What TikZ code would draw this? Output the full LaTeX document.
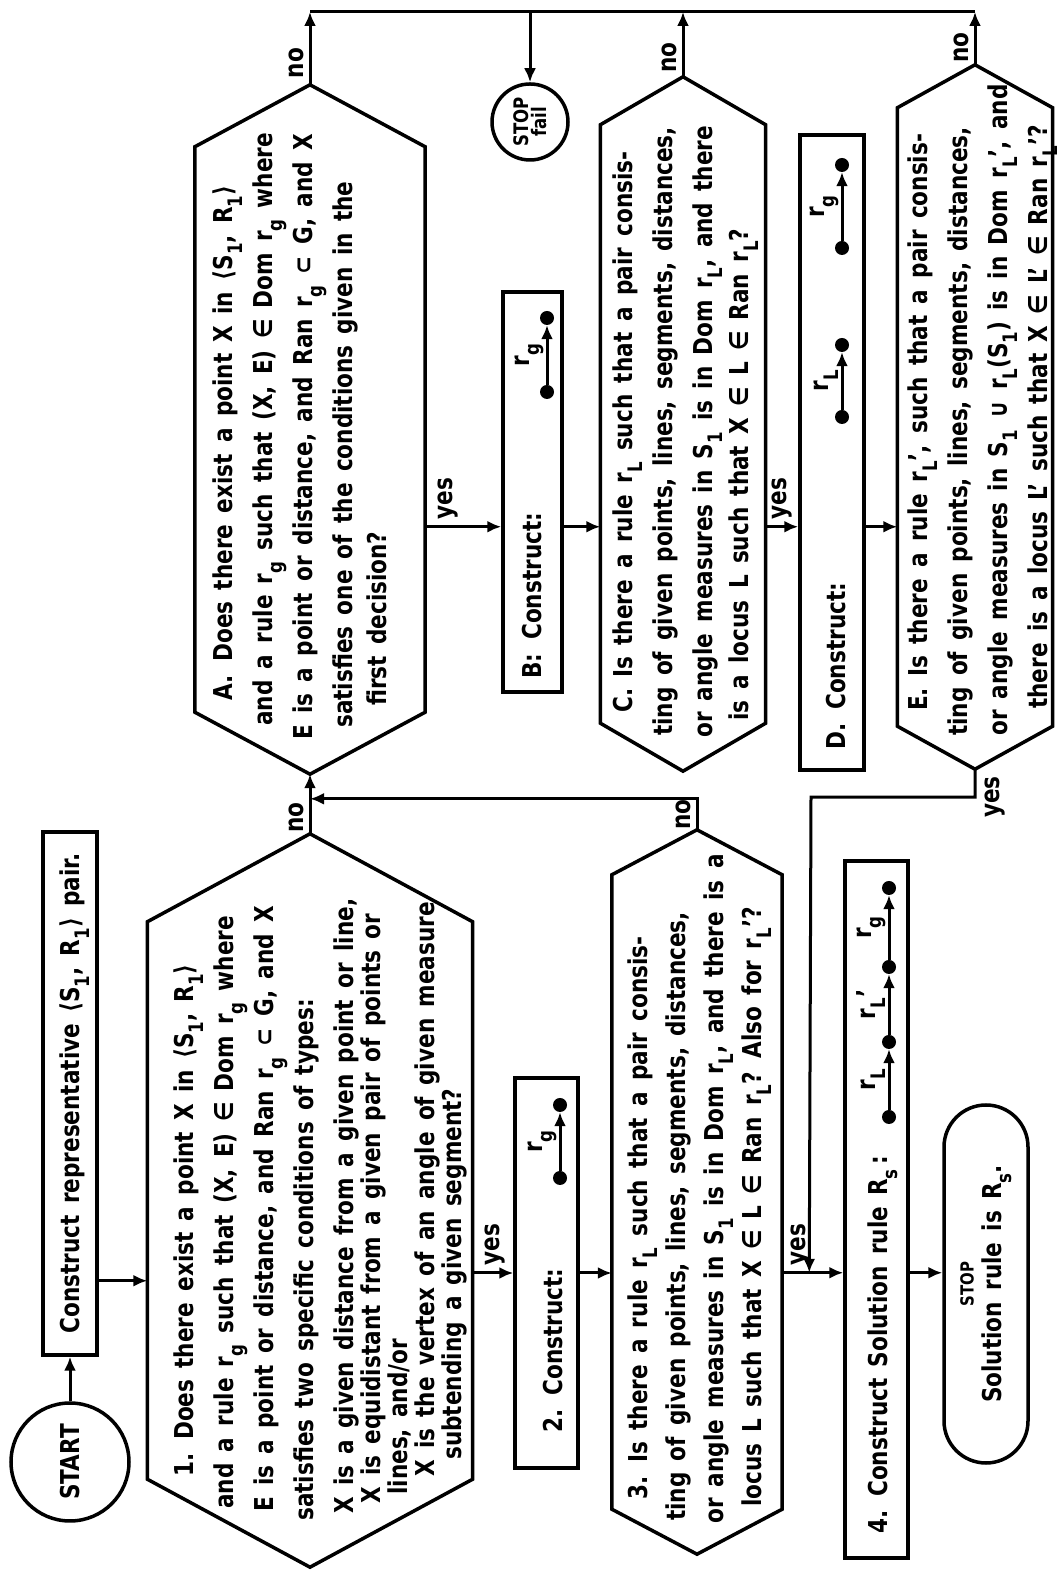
\documentclass[tikz,border=0pt]{standalone}
\usepackage{fontspec}
\setmainfont{DejaVu Sans}[FakeStretch=0.83, WordSpace=1.5]
\usetikzlibrary{
  arrows.meta,
  calc,
  positioning,
}
\newcommand{\lowix}[1]{\raisebox{-10pt}{\fontsize{20}{20}\selectfont #1}}
\newcommand{\hexframe}[2]{
  \draw[frame] (#1.north west) -- (#1.north east)
    -- ($(#1.east)+(#2,0)$) coordinate (#1-e)
    -- (#1.south east) -- (#1.south west)
    -- ($(#1.west)-(#2,0)$) coordinate (#1-w) -- cycle;
}

\begin{document}
\begin{tikzpicture}[
  x=1pt,
  y=-1pt,
  rotate=90,
  transform shape,
  every node/.style={
    font={\fontsize{26}{40}\selectfont\bfseries},
    inner sep=0pt,
  },
  frame/.style={
    draw,
    line width=3.5pt,
  },
  flat/.style={
    rectangle,
  },
  qtext/.style={
    align=left,
    anchor=north west,
  },
  arrow/.style={
    -{Latex[length=14pt,width=12pt]},
    line width=3pt,
  },
  line/.style={
    line width=3pt,
  },
  dot/.style={
    circle,
    fill,
    minimum size=14pt,
  },
]
  \useasboundingbox (0,0) rectangle (1571,1060);

  %%%%%%%%%%%%%%%%%%%% FIRST ROW %%%%%%%%%%%%%%%%%%%%

  \node[frame, circle, minimum size=118pt] (start) at (109,70) {START};

  \node[frame, minimum width=523pt, minimum height=54pt, text depth=0pt]
    (rep) at (477.5,70)
    {Construct representative ⟨S\lowix{1}, R\lowix{1}⟩ pair.};

  \node[frame, circle, minimum size=76pt, align=center,
    font={\fontsize{20}{18}\selectfont\bfseries}] (fail) at (1449,530)
    {STOP\\fail};

  %%%%%%%%%%%%%%%%%%%% DECISIONS %%%%%%%%%%%%%%%%%%%%

  \node[flat, minimum width=557pt, minimum height=325pt] (q1) at (370.5,310) {};
  \node[flat, minimum width=565pt, minimum height=230pt] (qA) at (1141.5,310) {};
  \node[flat, minimum width=634pt, minimum height=170pt] (q3) at (379,697) {};
  \node[flat, minimum width=598pt, minimum height=165pt] (qC) at (1147,683) {};
  \node[flat, minimum width=618pt, minimum height=155pt] (qE) at (1154,975) {};

  \hexframe{q1}{88}
  \hexframe{qA}{62}
  \hexframe{q3}{45}
  \hexframe{qC}{48}
  \hexframe{qE}{43}

  \node[qtext] (q1text) at (50,174) {%
    \hspace*{44pt}1. Does there exist a point X in ⟨S\lowix{1}, R\lowix{1}⟩\\
    \hspace*{12pt}and a rule r\lowix{g} such that (X, E) ∈ Dom r\lowix{g} where\\
    \hspace*{9pt}E is a point or distance, and Ran r\lowix{g} ⊂ G, and X\\
    satisfies two specific conditions of types:\\
    \hspace*{7pt}X is a given distance from a given point or line,\\[-13pt]
    \hspace*{17pt}X is equidistant from a given pair of points or\\[-13pt]
    \hspace*{26pt}lines, and/or\\[-13pt]
    \hspace*{44pt}X is the vertex of an angle of given measure\\[-13pt]
    \hspace*{61pt}subtending a given segment?};

  \node[qtext] (qAtext) at (831,213) {%
    \hspace*{39pt}A.\hspace{14pt}Does there exist a point X in ⟨S\lowix{1}, R\lowix{1}⟩\\
    \hspace*{14pt}and a rule r\lowix{g} such that (X, E) ∈ Dom r\lowix{g} where\\
    E is a point or distance, and Ran r\lowix{g} ⊂ G, and X\\
    \hspace*{12pt}satisfies one of the conditions given in the\\[-6pt]
    \hspace*{34pt}first decision?};

  \node[qtext] (q3text) at (47,628) {%
    \hspace*{24pt}3. Is there a rule r\lowix{L} such that a pair consis-\\[-2pt]
    \hspace*{3pt}ting of given points, lines, segments, distances,\\[-2pt]
    or angle measures in S\lowix{1} is in Dom r\lowix{L}, and there is a\\[-2pt]
    \hspace*{17pt}locus L such that X ∈ L ∈ Ran r\lowix{L}? Also for r\lowix{L}'?};

  \node[qtext] (qCtext) at (833,613) {%
    \hspace*{25pt}C. Is there a rule r\lowix{L} such that a pair consis-\\
    \hspace*{2pt}ting of given points, lines, segments, distances,\\
    or angle measures in S\lowix{1} is in Dom r\lowix{L}, and there\\[-4pt]
    \hspace*{17pt}is a locus L such that X ∈ L ∈ Ran r\lowix{L}?};

  \node[qtext] (qEtext) at (835,908) {%
    \hspace*{25pt}E. Is there a rule r\lowix{L}', such that a pair consis-\\
    ting of given points, lines, segments, distances,\\
    or angle measures in S\lowix{1} ∪ r\lowix{L}(S\lowix{1}) is in Dom r\lowix{L}', and\\
    \hspace*{27pt}there is a locus L' such that X ∈ L' ∈ Ran r\lowix{L}'?};

  %%%%%%%%%%%%%%%%%%%% CONSTRUCT BOXES %%%%%%%%%%%%%%%%%%%%

  \node[frame, minimum width=390pt, minimum height=63pt] (box2) at (298,546.5) {};
  \node[anchor=base west] (box2text) at (138,562) {2.\hspace{14pt}Construct:};
  \node[dot] (b2a) at (393,560) {};
  \node[dot] (b2b) at (466,560) {};
  \draw[arrow] (b2a) -- (b2b) node[midway, above=2pt] {r\lowix{g}};

  \node[frame, minimum width=400pt, minimum height=59pt] (boxB) at (1079,532.5) {};
  \node[anchor=base west] (boxBtext) at (892,541) {B:\hspace{14pt}Construct:};
  \node[dot] (bBa) at (1179,547) {};
  \node[dot] (bBb) at (1253,547) {};
  \draw[arrow] (bBa) -- (bBb) node[midway, above=2pt] {r\lowix{g}};

  \node[frame, minimum width=635pt, minimum height=64pt] (boxD) at (1118.5,832) {};
  \node[anchor=base west] (boxDtext) at (821,845) {D.\hspace{14pt}Construct:};
  \node[dot] (bDa) at (1154,842) {};
  \node[dot] (bDb) at (1226,842) {};
  \node[dot] (bDc) at (1323,842) {};
  \node[dot] (bDd) at (1406,842) {};
  \draw[arrow] (bDa) -- (bDb) node[midway, above=2pt] {r\lowix{L}};
  \draw[arrow] (bDc) -- (bDd) node[midway, above=2pt] {r\lowix{g}};

  \node[frame, minimum width=697pt, minimum height=63pt] (box4) at (361.5,876.5) {};
  \node[anchor=base west] (box4text) at (37,887) {4. Construct Solution rule R\lowix{s}\,:};
  \node[dot] (b4a) at (454,889) {};
  \node[dot] (b4b) at (529,889) {};
  \node[dot] (b4c) at (604,889) {};
  \node[dot] (b4d) at (683,889) {};
  \draw[arrow] (b4a) -- (b4b) node[midway, above=2pt] {r\lowix{L}};
  \draw[arrow] (b4b) -- (b4c) node[midway, above=2pt] {r\lowix{L}'};
  \draw[arrow] (b4c) -- (b4d) node[midway, above=2pt] {r\lowix{g}};

  \node[frame, rounded corners=42pt, minimum width=358pt, minimum height=84pt,
    align=center] (stop) at (287,986)
    {{\fontsize{18}{18}\selectfont STOP}\\[-12pt]Solution rule is R\lowix{s}.};

  %%%%%%%%%%%%%%%%%%%% CONNECTORS %%%%%%%%%%%%%%%%%%%%

  \draw[arrow] (start) -- (rep);

  \coordinate (repout) at ($(rep.south west)+(76,0)$);
  \draw[arrow] (repout) -- (repout |- q1.north);

  \draw[arrow] (q1-e) -- (qA-w) node[pos=0.27, above=5pt] {no};

  \coordinate (back) at ($(q3-e |- q1-e)+(31,0)$);
  \draw[arrow] (q3-e) -- ++(31,0) node[midway, above=5pt] {no} -- (back);

  \draw[arrow] (box2.north |- q1.south) -- (box2.north)
    node[pos=0.55, right=6pt] {yes};
  \draw[arrow] (box2.south) -- (box2.south |- q3.north);

  \coordinate (yes3) at ($(box4.north west)+(287,0)$);
  \draw[arrow] (yes3 |- q3.south) -- (yes3) node[pos=0.3, right=6pt] {yes};
  \draw[arrow] (yes3 |- box4.south) -- (yes3 |- stop.north);

  \coordinate (yesA) at ($(boxB.north west)+(167,0)$);
  \draw[arrow] (yesA |- qA.south) -- (yesA) node[pos=0.3, right=6pt] {yes};
  \draw[arrow] (yesA |- boxB.south) -- (yesA |- qC.north);
  \draw[arrow] (yesA |- qC.south) -- (yesA |- boxD.north)
    node[pos=0.5, right=6pt] {yes};
  \draw[arrow] (yesA |- boxD.south) -- (yesA |- qE.north);

  \draw[arrow] (qE-w) -- ++(-28,0) node[below=8pt] {yes}
    -- ++(0,-164) -- ($(yes3)+(0,-34)$);

  % Failure bus
  \coordinate (bus) at (1559,0);
  \draw[arrow] (qA-e) -- (bus |- qA-e) node[pos=0.3, above=5pt] {no};
  \draw[arrow] (qC-e) -- (bus |- qC-e) node[pos=0.3, above=5pt] {no};
  \draw[arrow] (qE-e) -- (bus |- qE-e) node[pos=0.33, above=5pt] {no};
  \draw[line] (bus |- qA-e) -- (bus |- qE-e);
  \draw[arrow] (bus |- fail) -- (fail);
\end{tikzpicture}
\end{document}
